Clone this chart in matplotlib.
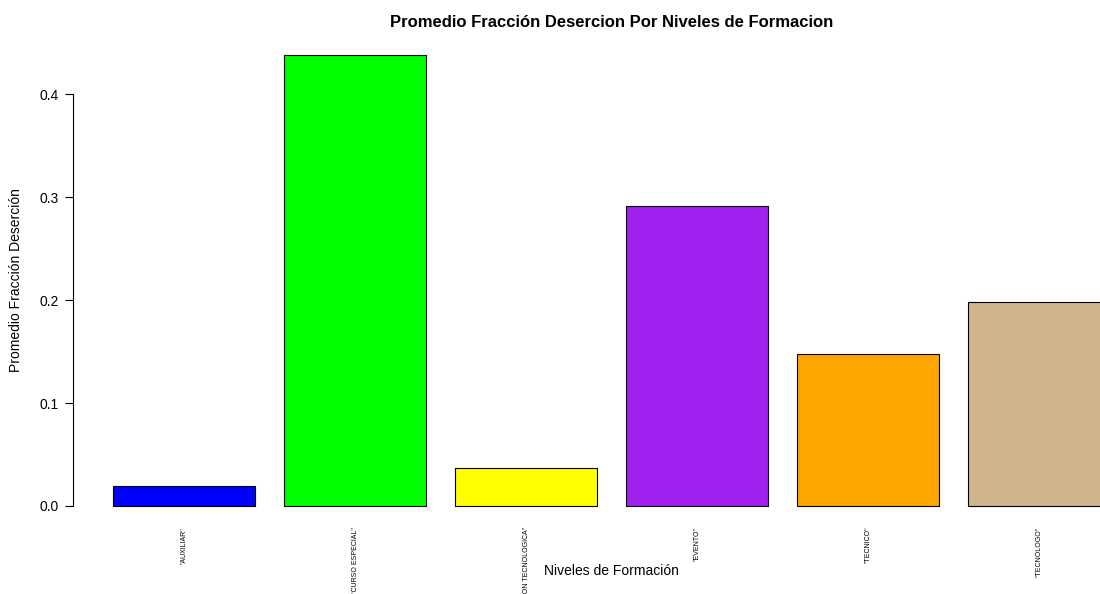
import matplotlib
matplotlib.use("Agg")
import matplotlib.pyplot as plt
import numpy as np

plt.rcParams['font.family'] = ['Liberation Sans', 'DejaVu Sans']

niveles = ['"AUXILIAR"', '"CURSO ESPECIAL"', '"ESPECIALIZACION TECNOLOGICA"',
           '"EVENTO"', '"TECNICO"', '"TECNOLOGO"']
promedio = [0.0194, 0.438, 0.037, 0.291, 0.148, 0.198]
colores = ['#0000FF', '#00FF00', '#FFFF00', '#A020F0', '#FFA500', '#D2B48C']

fig = plt.figure(figsize=(11, 5.94), dpi=100)
# plot region runs past the right edge, like the original (cropped R device)
ax = fig.add_axes([73/1100, 1 - 524/594, (1150 - 73)/1100, (524 - 37)/594])

# R barplot layout: width 1, space 0.2
x = 0.2 + np.arange(len(promedio)) * 1.2 + 0.5
ax.bar(x, promedio, width=1.0, color=colores, edgecolor='black', linewidth=0.8)

ax.set_xlim(-0.08, 7.48)
ax.set_ylim(-0.0175, 0.4555)

for s in ['top', 'right', 'bottom']:
    ax.spines[s].set_visible(False)
ax.spines['left'].set_bounds(0, 0.4)
ax.spines['left'].set_linewidth(0.8)

ax.set_yticks([0.0, 0.1, 0.2, 0.3, 0.4])
ax.set_yticklabels(['0.0', '0.1', '0.2', '0.3', '0.4'], fontsize=10)
ax.tick_params(axis='y', length=6, width=0.8, pad=4)

ax.set_xticks(x)
ax.set_xticklabels(niveles, rotation=90, fontsize=5, va='top', ha='center')
ax.tick_params(axis='x', length=0, pad=2)

ax.set_title('Promedio Fracción Desercion Por Niveles de Formacion',
             fontsize=12, fontweight='bold', pad=7)
fig.text(611/1100, 1 - 571/594, 'Niveles de Formación', fontsize=10,
         ha='center', va='center')
ax.set_ylabel('Promedio Fracción Deserción', fontsize=10, labelpad=12)

fig.savefig('out.png', dpi=100)
